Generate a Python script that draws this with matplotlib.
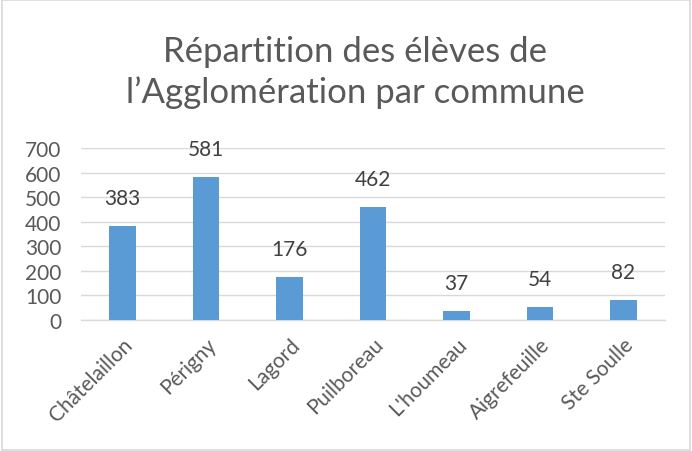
import matplotlib
matplotlib.use("Agg")
import matplotlib.pyplot as plt
from matplotlib.patches import Rectangle

communes = ["Châtelaillon", "Périgny", "Lagord", "Puilboreau", "L'houmeau", "Aigrefeuille", "Ste Soulle"]
eleves = [383, 581, 176, 462, 37, 54, 82]
yticks = [0, 100, 200, 300, 400, 500, 600, 700]
title = "Répartition des élèves de\nl’Agglomération par commune"

plt.rcParams['font.family'] = ['Lato', 'DejaVu Sans']

fig = plt.figure(figsize=(6.92, 4.52), dpi=100)
fig.patch.set_facecolor('white')
ax = fig.add_axes([0.117, 0.290, 0.844, 0.380])

x = list(range(len(communes)))
bars = ax.bar(x, eleves, width=0.32, color='#5b9bd5', zorder=3)
for xi, v in zip(x, eleves):
    ax.annotate(str(v), (xi, v), xytext=(0, 13), textcoords='offset points',
                ha='center', va='bottom', fontsize=15, color='#404040')

ax.set_xlim(-0.5, len(communes) - 0.5)
ax.set_ylim(0, 700)
ax.set_yticks(yticks)
ax.set_yticklabels([str(t) for t in yticks], fontsize=15, color='#595959')
ax.set_xticks(x)
ax.set_xticklabels(communes, rotation=45, ha='right', rotation_mode='anchor',
                   fontsize=15, color='#595959')
ax.tick_params(axis='both', length=0)
ax.tick_params(axis='y', pad=14)
ax.tick_params(axis='x', pad=10)
ax.grid(axis='y', color='#d9d9d9', linewidth=1, zorder=0)
for s in ['top', 'right', 'left']:
    ax.spines[s].set_visible(False)
ax.spines['bottom'].set_color('#d9d9d9')
ax.spines['bottom'].set_linewidth(1)

fig.text(0.513, 0.840, title, ha='center', va='center', fontsize=25,
         color='#595959', linespacing=1.3)

fig.patches.append(Rectangle((0.003, 0.003), 0.994, 0.994, transform=fig.transFigure,
                             fill=False, edgecolor='#d9d9d9', linewidth=1.2))

fig.savefig('out.png', dpi=100)
